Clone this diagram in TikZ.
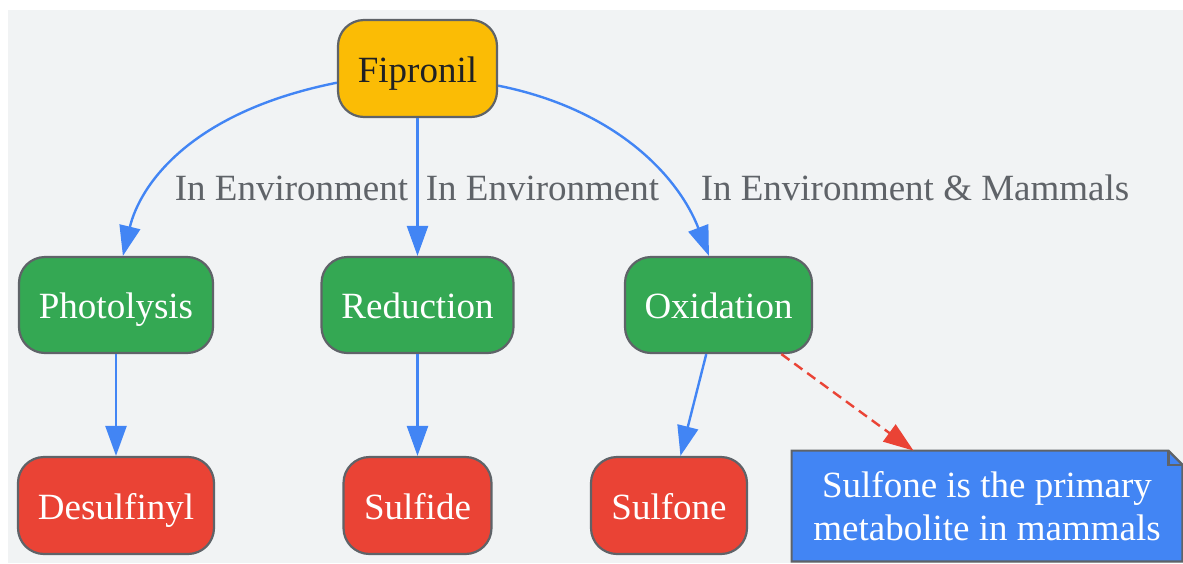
\documentclass[tikz,border=0pt]{standalone}
\usepackage{fontspec}
\setmainfont{Liberation Serif}
\usetikzlibrary{arrows.meta}
\definecolor{bgcol}{HTML}{F1F3F4}
\definecolor{bordergray}{HTML}{5F6368}
\definecolor{labelgray}{HTML}{5F6368}
\definecolor{fipyellow}{HTML}{FBBC05}
\definecolor{procgreen}{HTML}{34A853}
\definecolor{prodred}{HTML}{EA4335}
\definecolor{noteblue}{HTML}{4285F4}
\definecolor{darktext}{HTML}{202124}

\begin{document}
\begin{tikzpicture}[x=0.5pt, y=-0.5pt,
  box/.style={draw=bordergray, line width=1.1pt, rounded corners=13pt,
    minimum height=48.5pt, inner sep=0pt, text=white,
    text height=16.7pt, text depth=3.1pt,
    font=\fontsize{18.5}{22}\selectfont},
  fipbox/.style={box, fill=fipyellow, text=darktext},
  procbox/.style={box, fill=procgreen, minimum height=48pt},
  prodbox/.style={box, fill=prodred},
  notetext/.style={minimum width=195pt, minimum height=55pt, inner sep=0pt,
    align=center, text=white, font=\fontsize{18.5}{21.5}\selectfont},
  edgelabel/.style={text=labelgray, inner sep=0pt, font=\fontsize{18.5}{22}\selectfont},
  flow/.style={draw=noteblue, line width=1.2pt, -{Triangle[length=15pt,width=10.5pt]}},
  noteflow/.style={draw=prodred, line width=1.2pt, dash pattern=on 5pt off 3pt,
    -{Triangle[length=15pt,width=10.5pt]}}]
\useasboundingbox (0,0) rectangle (1183,563);
\fill[bgcol] (7.5,10) rectangle (1183,563);

\node[fipbox, minimum width=79.5pt] (fip) at (417.5,68.5) {Fipronil};
\node[procbox, minimum width=97pt] (pho) at (116,305) {Photolysis};
\node[procbox, minimum width=96pt] (red) at (417.5,305) {Reduction};
\node[procbox, minimum width=93.5pt] (oxi) at (718.5,305) {Oxidation};
\node[prodbox, minimum width=98pt] (des) at (116,505.5) {Desulfinyl};
\node[prodbox, minimum width=74pt] (sfd) at (417.5,505.5) {Sulfide};
\node[prodbox, minimum width=78pt] (sfn) at (669,505.5) {Sulfone};

\coordinate (note) at (987,506);
\node[notetext] (notebox) at (note) {};
\filldraw[fill=noteblue, draw=bordergray, line width=1.1pt]
  (notebox.south west) -- (notebox.north west) -- ([xshift=-7pt]notebox.north east)
  -- ([yshift=-7pt]notebox.north east) -- (notebox.south east) -- cycle;
\draw[bordergray, line width=1.1pt] ([xshift=-7pt]notebox.north east) -- ++(0,-7pt)
  -- ([yshift=-7pt]notebox.north east);
\node[notetext] (notelbl) at (note) {Sulfone is the primary\\metabolite in mammals};

\path[flow] (fip.190) .. controls (190,112) and (140,185) .. (pho.82);
\path[flow] (fip.south) -- (red.north);
\path[flow] (fip.348) .. controls (620,110) and (680,180) .. (oxi.101);
\path[flow] (pho.south) -- (des.north);
\path[flow] (red.south) -- (sfd.north);
\path[flow] (oxi.256) -- (sfn.77);
\path[noteflow] (oxi.322) -- (notebox.143);

\node[edgelabel] (lblpho) at (291.5,188) {In Environment};
\node[edgelabel] (lblred) at (542.5,188) {In Environment};
\node[edgelabel] (lbloxi) at (915,188) {In Environment \& Mammals};
\end{tikzpicture}
\end{document}
